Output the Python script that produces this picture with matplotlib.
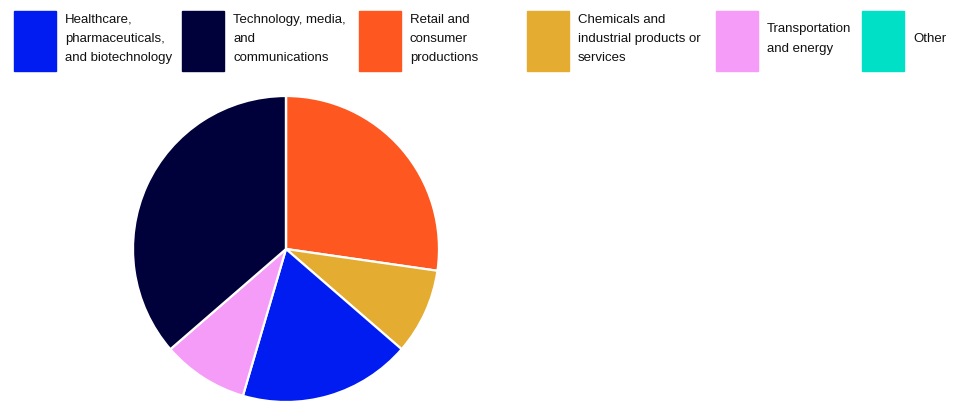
import matplotlib.pyplot as plt
from matplotlib.patches import Rectangle

plt.rcParams['font.family'] = ['Liberation Sans', 'DejaVu Sans']

# legend order
categories = ['Healthcare,\npharmaceuticals,\nand biotechnology',
              'Technology, media,\nand\ncommunications',
              'Retail and\nconsumer\nproductions',
              'Chemicals and\nindustrial products or\nservices',
              'Transportation\nand energy',
              'Other']
counts = [2, 4, 3, 1, 1, 0]
colors = ['#001cf0', '#00003a', '#fe5720', '#e4ac30', '#f59bf8', '#00e0c6']

# order the slices are drawn, clockwise from 12 o'clock
pie_order = [2, 3, 0, 4, 1, 5]

W, H = 967, 419
fig = plt.figure(figsize=(W / 100, H / 100), dpi=100)

cx, cy, r = 286, 249, 153
ax = fig.add_axes([(cx - r) / W, (H - cy - r) / H, 2 * r / W, 2 * r / H])
vals = [counts[i] for i in pie_order]
cols = [colors[i] for i in pie_order]
ax.pie(vals, colors=cols, startangle=90, counterclock=False,
       wedgeprops=dict(edgecolor='white', linewidth=1.6))
ax.set_xlim(-1.0, 1.0)
ax.set_ylim(-1.0, 1.0)
ax.set_aspect('auto')
ax.axis('off')

# legend boxes across the top
sw_left = [14, 182, 359, 527, 716, 862]
sw_w, sw_top, sw_bot = 42, 11, 71
for i, lab in enumerate(categories):
    x0 = sw_left[i]
    fig.patches.append(Rectangle((x0 / W, 1 - sw_bot / H), sw_w / W, (sw_bot - sw_top) / H,
                                 transform=fig.transFigure, color=colors[i]))
    fig.text((x0 + sw_w + 9) / W, 1 - 39 / H, lab, ha='left', va='center',
             fontsize=9.5, linespacing=1.78, color='#111111')

fig.savefig('out.png', dpi=100)
